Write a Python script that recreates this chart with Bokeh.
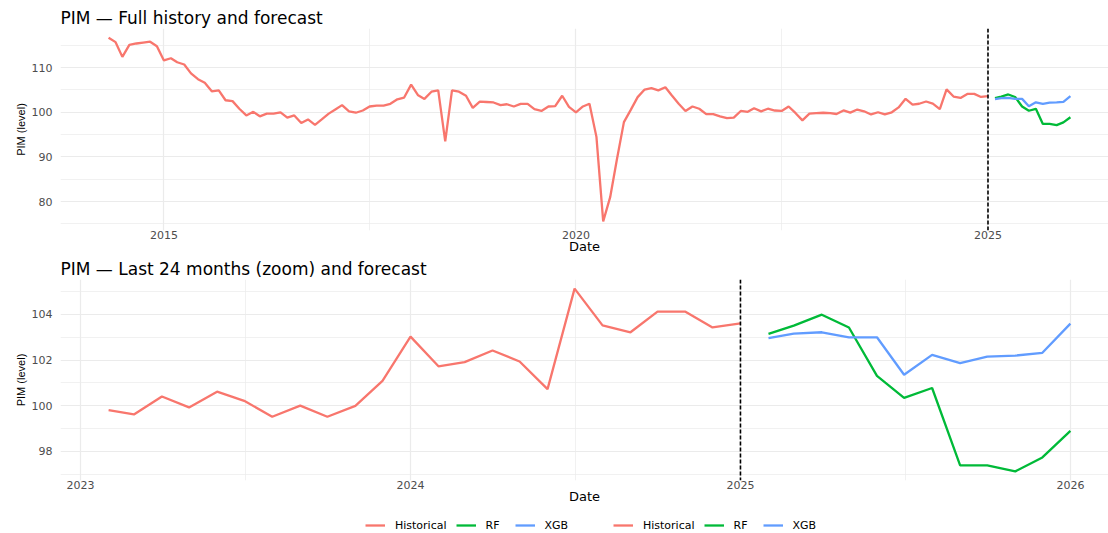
import pandas as pd
from bokeh.plotting import figure
from bokeh.models import Span, FixedTicker, Legend, LegendItem, Range1d
from bokeh.layouts import column
from bokeh.embed import file_html
from bokeh.resources import INLINE

# ---------------- data ----------------
hist_start = "2014-05-01"
hist_values = [
    116.7, 115.7, 112.4, 115.1, 115.4, 115.6, 115.8, 114.8,
    111.6, 112.1, 111.2, 110.7, 108.7, 107.4, 106.6, 104.7, 104.9, 102.7, 102.5, 100.8,
    99.3, 100.1, 99.1, 99.7, 99.7, 100.0, 98.8, 99.3, 97.6, 98.4, 97.2, 98.4,
    99.7, 100.7, 101.6, 100.2, 99.9, 100.4, 101.3, 101.5, 101.5, 101.9, 102.9, 103.3,
    106.2, 103.8, 103.0, 104.6, 104.9, 93.5, 104.9, 104.6, 103.7, 101.0, 102.4, 102.3,
    102.2, 101.6, 101.8, 101.3, 101.9, 101.9, 100.7, 100.3, 101.3, 101.4, 103.7, 101.2,
    100.0, 101.3, 101.9, 94.5, 75.6, 81.0, 89.5, 97.8, 100.6, 103.4, 105.1, 105.4,
    104.9, 105.6, 103.8, 101.9, 100.3, 101.3, 100.8, 99.6, 99.6, 99.1, 98.7, 98.8,
    100.3, 100.1, 100.9, 100.2, 100.8, 100.4, 100.3, 101.3, 99.8, 98.2, 99.7, 99.8,
    99.9, 99.81, 99.62, 100.41, 99.93, 100.62, 100.22, 99.52, 100.01, 99.52, 100.0, 101.09,
    103.03, 101.73, 101.91, 102.42, 101.94, 100.73, 105.13, 103.52, 103.22, 104.12, 104.12, 103.43,
    103.61,
]
fc_start = "2025-02-01"
rf_values = [103.15, 103.51, 103.99, 103.43, 101.31, 100.35, 100.78, 97.39, 97.39, 97.13, 97.74, 98.9]
xgb_values = [102.96, 103.16, 103.22, 103.0, 103.0, 101.36, 102.23, 101.87, 102.15, 102.2, 102.32, 103.6]
cutoff_date = "2025-01-01"
zoom_months = 24

top_year_ticks = [2015, 2020, 2025]
top_year_minor = [2012.5, 2017.5, 2022.5, 2027.5]
bottom_year_ticks = [2023, 2024, 2025, 2026]
bottom_year_minor = [2022.5, 2023.5, 2024.5, 2025.5, 2026.5]
top_level_ticks = [80, 90, 100, 110]
top_level_minor = [75, 85, 95, 105, 115]
bottom_level_ticks = [98, 100, 102, 104]
bottom_level_minor = [97, 99, 101, 103, 105]

series_labels = ["Historical", "RF", "XGB"]
series_colors = ["#F8766D", "#00BA38", "#619CFF"]

titles = ["PIM \u2014 Full history and forecast",
          "PIM \u2014 Last 24 months (zoom) and forecast"]


def dec_year(d):
    d = pd.Timestamp(d)
    s = pd.Timestamp(year=d.year, month=1, day=1)
    e = pd.Timestamp(year=d.year + 1, month=1, day=1)
    return d.year + (d - s) / (e - s)


hist_dates = pd.date_range(hist_start, periods=len(hist_values), freq="MS")
fc_dates = pd.date_range(fc_start, periods=len(rf_values), freq="MS")
hist_x = [dec_year(d) for d in hist_dates]
fc_x = [dec_year(d) for d in fc_dates]
cut_x = dec_year(cutoff_date)

W = 1108
FRAME_LEFT = 60
CLIP = (W - FRAME_LEFT) / (1118 - FRAME_LEFT)  # reference panel is cropped on the right


def make_panel(title, hx, hy, xt, xm, yt, ym, height, top_border, bottom_border):
    allx = hx + fc_x
    ally = hy + rf_values + xgb_values
    x0, x1 = min(allx), max(allx)
    xs = x0 - 0.05 * (x1 - x0)
    xe = xs + 1.1 * (x1 - x0) * CLIP
    y0, y1 = min(ally), max(ally)
    ys, ye = y0 - 0.05 * (y1 - y0), y1 + 0.05 * (y1 - y0)
    p = figure(width=W, height=height, x_range=Range1d(xs, xe), y_range=Range1d(ys, ye),
               toolbar_location=None, output_backend="svg", title=title,
               min_border_left=FRAME_LEFT, min_border_right=0,
               min_border_top=top_border, min_border_bottom=bottom_border)
    p.title.text_font = "DejaVu Sans"
    p.title.text_font_size = "17px"
    p.title.text_font_style = "normal"
    p.title.text_color = "black"
    p.title.align = "left"
    p.title.offset = 0
    p.title.standoff = 1
    p.outline_line_color = None
    p.background_fill_color = "white"
    p.border_fill_color = "white"

    p.xaxis.ticker = FixedTicker(ticks=xt, minor_ticks=xm)
    p.yaxis.ticker = FixedTicker(ticks=yt, minor_ticks=ym)
    for ax in p.axis:
        ax.axis_line_color = None
        ax.major_tick_line_color = None
        ax.minor_tick_line_color = None
        ax.major_tick_in = 0
        ax.major_tick_out = 0
        ax.minor_tick_in = 0
        ax.minor_tick_out = 0
        ax.major_label_text_color = "#4D4D4D"
        ax.major_label_text_font = "DejaVu Sans"
        ax.major_label_text_font_size = "11px"
        ax.axis_label_text_font_style = "normal"
        ax.axis_label_text_color = "black"
    p.xaxis.axis_label = "Date"
    p.xaxis.axis_label_text_font = "DejaVu Sans"
    p.xaxis.axis_label_text_font_size = "13px"
    p.xaxis.major_label_standoff = 0
    p.xaxis.axis_label_standoff = -3
    p.yaxis.axis_label = "PIM (level)"
    p.yaxis.axis_label_text_font = "Liberation Sans"
    p.yaxis.axis_label_text_font_size = "11px"
    p.yaxis.major_label_standoff = 8
    p.yaxis.axis_label_standoff = 2

    p.grid.grid_line_color = "#EBEBEB"
    p.grid.grid_line_width = 1.2
    p.grid.minor_grid_line_color = "#EBEBEB"
    p.grid.minor_grid_line_width = 0.7

    p.line(hx, hy, line_color=series_colors[0], line_width=2.3)
    p.line(fc_x, rf_values, line_color=series_colors[1], line_width=2.3)
    p.line(fc_x, xgb_values, line_color=series_colors[2], line_width=2.3)
    p.add_layout(Span(location=cut_x, dimension="height", line_color="black",
                      line_dash="4 2", line_width=1.6))
    return p


top = make_panel(titles[0], hist_x, hist_values, top_year_ticks, top_year_minor,
                 top_level_ticks, top_level_minor, 256, 28, 25)
bottom = make_panel(titles[1], hist_x[-zoom_months:], hist_values[-zoom_months:],
                    bottom_year_ticks, bottom_year_minor, bottom_level_ticks,
                    bottom_level_minor, 250, 22, 26)

# ---------------- legends ----------------
leg = figure(width=W, height=27, x_range=(0, 1), y_range=(0, 1), toolbar_location=None,
             output_backend="svg", title=None, min_border=0,
             x_axis_location=None, y_axis_location=None)
leg.outline_line_color = None
leg.grid.visible = False
rs = [leg.line([2, 3], [2, 3], line_color=c, line_width=2.3) for c in series_colors]
LEG_SHIFT = 61  # observed offset of legend placement inside this figure
for x0 in (366, 614):
    L = Legend(items=[LegendItem(label=l, renderers=[r]) for l, r in zip(series_labels, rs)],
               location=(x0 - LEG_SHIFT, 1), orientation="horizontal", padding=0, margin=0,
               border_line_color=None, background_fill_alpha=0,
               glyph_width=20, glyph_height=14, label_height=14,
               label_standoff=10, spacing=9,
               label_text_font="DejaVu Sans", label_text_font_size="11px",
               label_text_color="black")
    leg.add_layout(L)

layout = column(top, bottom, leg)
open("out.html", "w").write(file_html(layout, INLINE))
